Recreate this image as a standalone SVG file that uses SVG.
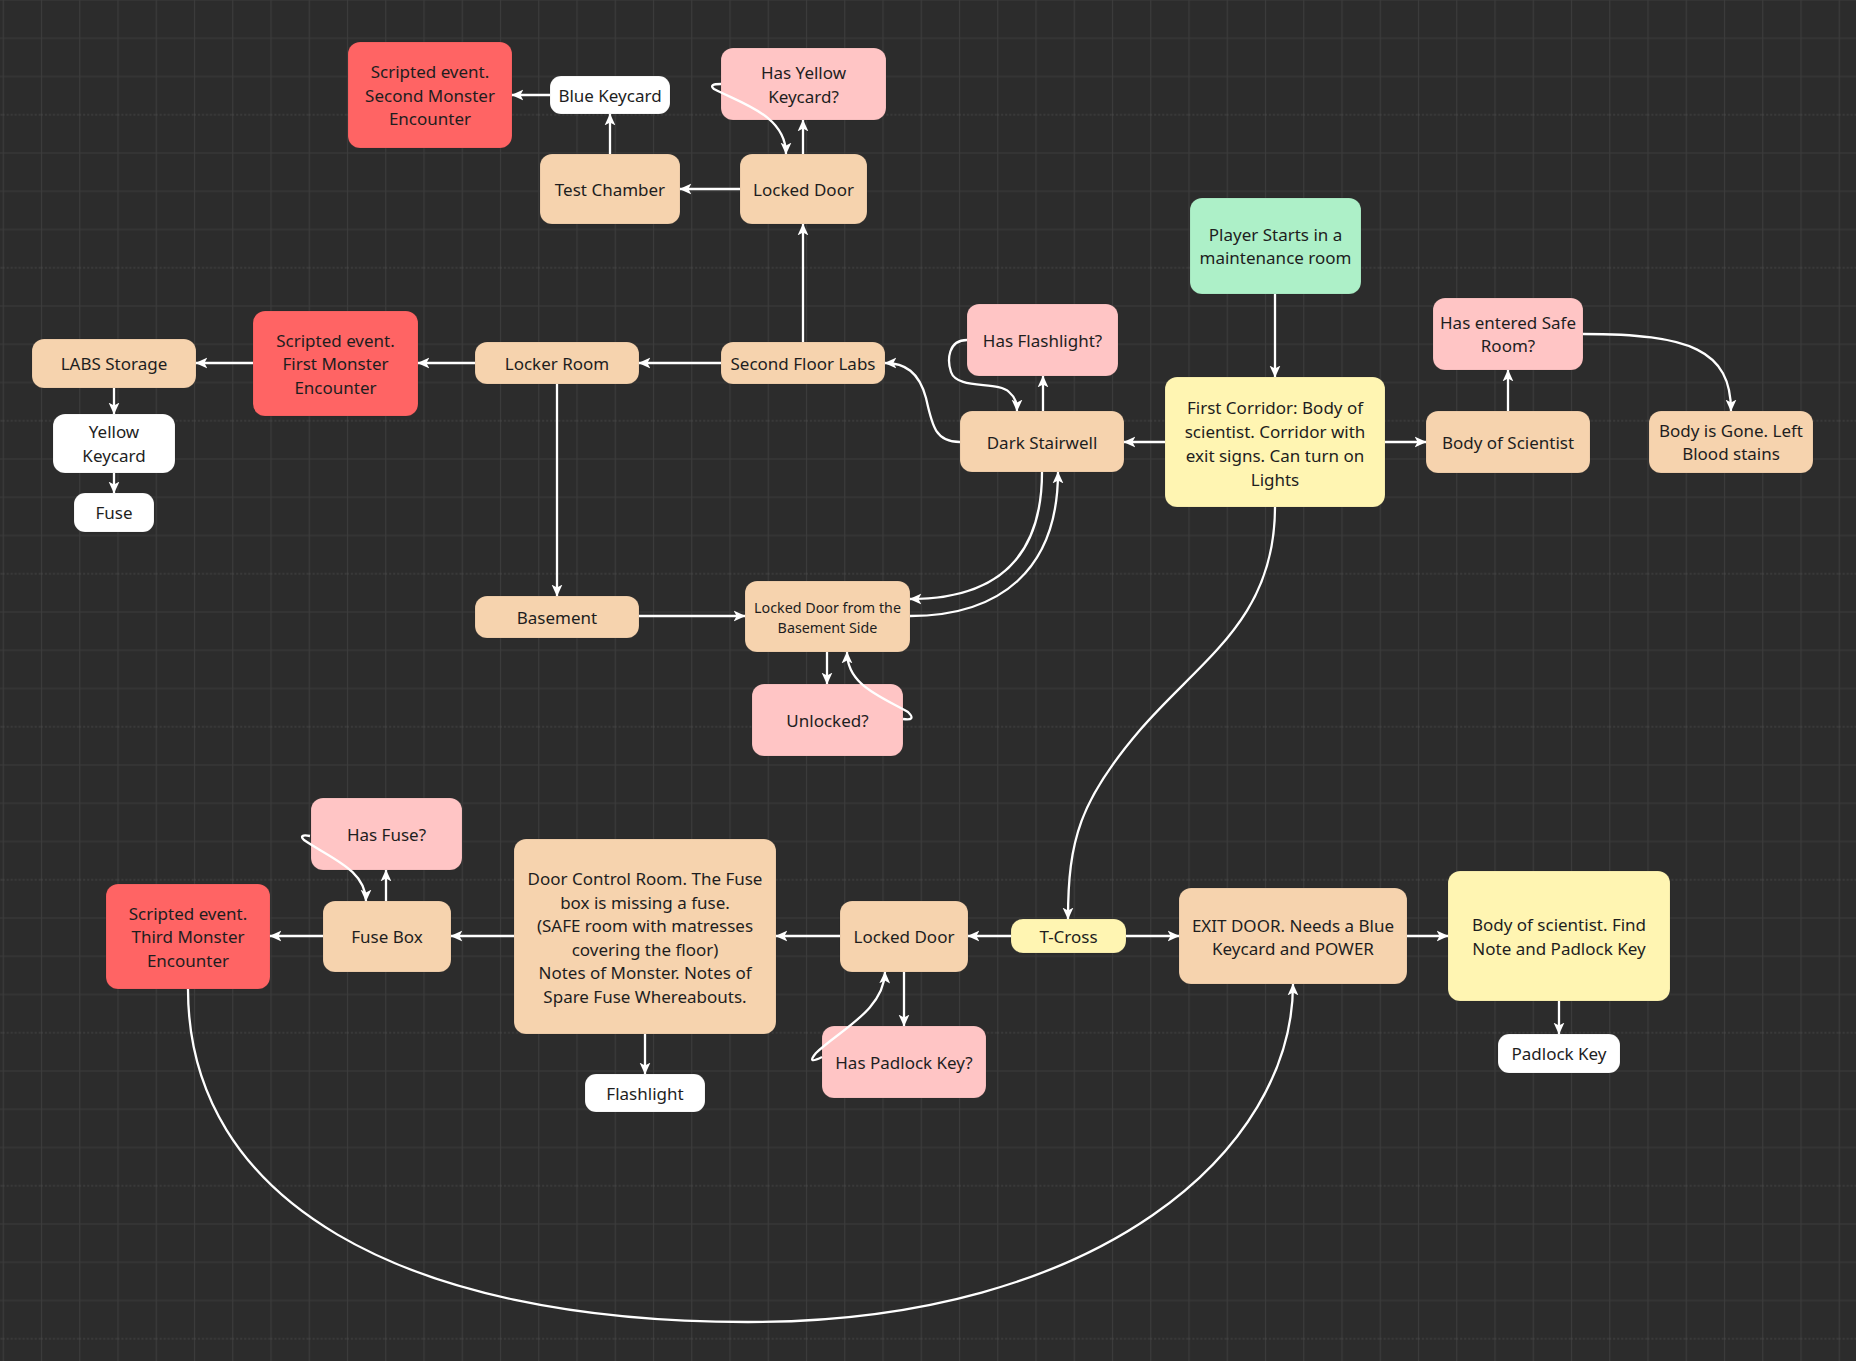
<svg xmlns="http://www.w3.org/2000/svg" width="1856" height="1361" viewBox="0 0 1856 1361">
<style>
text{font-family:"Noto Sans","Open Sans","DejaVu Sans",sans-serif;font-size:17px;fill:#1e1e1e;text-anchor:middle;dominant-baseline:central}
.small{font-size:14.3px}
.red{fill:#ff6464}
.peach{fill:#f6d3ae}
.pink{fill:#ffc5c5}
.green{fill:#adf0c8}
.yellow{fill:#fff5b2}
.white{fill:#ffffff}
.node rect{stroke:#000;stroke-opacity:0.08;stroke-width:1}
#connectors path{fill:none;stroke:#ffffff;stroke-width:2.3;marker-end:url(#arrow)}
</style>
<defs>
<marker id="arrow" viewBox="0 0 10 10" refX="9.5" refY="5" markerWidth="12" markerHeight="12" markerUnits="userSpaceOnUse" orient="auto">
<path d="M0,0.5 L10,5 L0,9.5 L2.5,5 z" fill="#ffffff"/>
</marker>
<pattern id="grid" x="2.7" y="-0.5" width="38.25" height="153" patternUnits="userSpaceOnUse">
<path d="M0.5,0 V153" stroke="#3c3c3c" stroke-width="1.2" fill="none"/>
<path d="M0,0.5 H38.25 M0,38.75 H38.25 M0,77 H38.25" stroke="#3c3c3c" stroke-width="1.2" fill="none"/>
<path d="M0,115.25 H38.25" stroke="#474747" stroke-width="1.2" stroke-dasharray="2 2" fill="none"/>
</pattern>
</defs>
<rect width="1856" height="1361" fill="#2c2c2c"/>
<rect width="1856" height="1361" fill="url(#grid)"/>

<g id="n-scripted2" class="node"><rect class="red" x="348" y="42" width="164" height="106" rx="12"/><text x="430" y="71.5">Scripted event.</text><text x="430" y="95">Second Monster</text><text x="430" y="118.5">Encounter</text></g>
<g id="n-bluekeycard" class="node"><rect class="white" x="550" y="76" width="120" height="38" rx="11"/><text x="610" y="95">Blue Keycard</text></g>
<g id="n-hasyellow" class="node"><rect class="pink" x="721" y="48" width="165" height="72" rx="12"/><text x="803.5" y="72.5">Has Yellow</text><text x="803.5" y="96">Keycard?</text></g>
<g id="n-testchamber" class="node"><rect class="peach" x="540" y="154" width="140" height="70" rx="12"/><text x="610" y="189">Test Chamber</text></g>
<g id="n-lockeddoor1" class="node"><rect class="peach" x="740" y="154" width="127" height="70" rx="12"/><text x="803.5" y="189">Locked Door</text></g>
<g id="n-labsstorage" class="node"><rect class="peach" x="32" y="339" width="164" height="49" rx="12"/><text x="114" y="363.5">LABS Storage</text></g>
<g id="n-scripted1" class="node"><rect class="red" x="253" y="311" width="165" height="105" rx="12"/><text x="335.5" y="340">Scripted event.</text><text x="335.5" y="363.5">First Monster</text><text x="335.5" y="387">Encounter</text></g>
<g id="n-lockerroom" class="node"><rect class="peach" x="475" y="342" width="164" height="42" rx="12"/><text x="557" y="363">Locker Room</text></g>
<g id="n-secondfloor" class="node"><rect class="peach" x="721" y="342" width="164" height="42" rx="12"/><text x="803" y="363">Second Floor Labs</text></g>
<g id="n-yellowkeycard" class="node"><rect class="white" x="53" y="414" width="122" height="59" rx="12"/><text x="114" y="431.75">Yellow</text><text x="114" y="455.25">Keycard</text></g>
<g id="n-fuse" class="node"><rect class="white" x="74" y="493" width="80" height="39" rx="11"/><text x="114" y="512.5">Fuse</text></g>
<g id="n-playerstarts" class="node"><rect class="green" x="1190" y="198" width="171" height="96" rx="12"/><text x="1275.5" y="234.25">Player Starts in a</text><text x="1275.5" y="257.75">maintenance room</text></g>
<g id="n-hasflashlight" class="node"><rect class="pink" x="967" y="304" width="151" height="72" rx="12"/><text x="1042.5" y="340">Has Flashlight?</text></g>
<g id="n-hassafe" class="node"><rect class="pink" x="1433" y="298" width="150" height="72" rx="12"/><text x="1508" y="322.25">Has entered Safe</text><text x="1508" y="345.75">Room?</text></g>
<g id="n-darkstairwell" class="node"><rect class="peach" x="960" y="411" width="164" height="61" rx="12"/><text x="1042" y="442">Dark Stairwell</text></g>
<g id="n-firstcorridor" class="node"><rect class="yellow" x="1165" y="377" width="220" height="130" rx="12"/><text x="1275" y="407">First Corridor: Body of</text><text x="1275" y="431">scientist. Corridor with</text><text x="1275" y="455">exit signs. Can turn on</text><text x="1275" y="479">Lights</text></g>
<g id="n-bodyscientist" class="node"><rect class="peach" x="1426" y="411" width="164" height="62" rx="12"/><text x="1508" y="442">Body of Scientist</text></g>
<g id="n-bodygone" class="node"><rect class="peach" x="1649" y="411" width="164" height="62" rx="12"/><text x="1731" y="430.25">Body is Gone. Left</text><text x="1731" y="453.75">Blood stains</text></g>
<g id="n-lockeddoorbasement" class="node"><rect class="peach" x="745" y="581" width="165" height="71" rx="12"/><text class="small" x="827.5" y="607">Locked Door from the</text><text class="small" x="827.5" y="627">Basement Side</text></g>
<g id="n-unlocked" class="node"><rect class="pink" x="752" y="684" width="151" height="72" rx="12"/><text x="827.5" y="720">Unlocked?</text></g>
<g id="n-basement" class="node"><rect class="peach" x="475" y="596" width="164" height="42" rx="12"/><text x="557" y="617">Basement</text></g>
<g id="n-hasfuse" class="node"><rect class="pink" x="311" y="798" width="151" height="72" rx="12"/><text x="386.5" y="834">Has Fuse?</text></g>
<g id="n-scripted3" class="node"><rect class="red" x="106" y="884" width="164" height="105" rx="12"/><text x="188" y="913">Scripted event.</text><text x="188" y="936.5">Third Monster</text><text x="188" y="960">Encounter</text></g>
<g id="n-fusebox" class="node"><rect class="peach" x="323" y="901" width="128" height="71" rx="12"/><text x="387" y="936.5">Fuse Box</text></g>
<g id="n-doorcontrol" class="node"><rect class="peach" x="514" y="839" width="262" height="195" rx="12"/><text x="645" y="878.5">Door Control Room. The Fuse</text><text x="645" y="902">box is missing a fuse.</text><text x="645" y="925.5">(SAFE room with matresses</text><text x="645" y="949">covering the floor)</text><text x="645" y="972.5">Notes of Monster. Notes of</text><text x="645" y="996">Spare Fuse Whereabouts.</text></g>
<g id="n-lockeddoor2" class="node"><rect class="peach" x="840" y="901" width="128" height="71" rx="12"/><text x="904" y="936.5">Locked Door</text></g>
<g id="n-haspadlock" class="node"><rect class="pink" x="822" y="1026" width="164" height="72" rx="12"/><text x="904" y="1062">Has Padlock Key?</text></g>
<g id="n-flashlight" class="node"><rect class="white" x="585" y="1074" width="120" height="38" rx="11"/><text x="645" y="1093">Flashlight</text></g>
<g id="n-tcross" class="node"><rect class="yellow" x="1011" y="919" width="115" height="34" rx="12"/><text x="1068.5" y="936">T-Cross</text></g>
<g id="n-exitdoor" class="node"><rect class="peach" x="1179" y="888" width="228" height="96" rx="12"/><text x="1293" y="925.25">EXIT DOOR. Needs a Blue</text><text x="1293" y="948.75">Keycard and POWER</text></g>
<g id="n-bodyfind" class="node"><rect class="yellow" x="1448" y="871" width="222" height="130" rx="12"/><text x="1559" y="924.75">Body of scientist. Find</text><text x="1559" y="948.25">Note and Padlock Key</text></g>
<g id="n-padlockkey" class="node"><rect class="white" x="1498" y="1034" width="122" height="39" rx="11"/><text x="1559" y="1053.5">Padlock Key</text></g>

<g id="connectors">
<path d="M550,95 H512"/>
<path d="M610,154 V114"/>
<path d="M740,189 H680"/>
<path d="M803,154 V120"/>
<path d="M721,84 Q 708,84 714,89 C 740,103 786,115 786,154"/>
<path d="M803,342 V224"/>
<path d="M721,363 H639"/>
<path d="M475,363 H418"/>
<path d="M253,363 H196"/>
<path d="M114,388 V414"/>
<path d="M114,473 V493"/>
<path d="M557,384 V596"/>
<path d="M639,616 H745"/>
<path d="M960,442 C 935,442 932,425 926,398 C 919,372 905,363 885,363"/>
<path d="M1043,411 V376"/>
<path d="M967,340 C 948,340 947,360 951,372 C 957,390 998,381 1009,392 C 1016,398 1017,404 1017,411"/>
<path d="M1165,442 H1124"/>
<path d="M1275,294 V377"/>
<path d="M1385,442 H1426"/>
<path d="M1508,411 V370"/>
<path d="M1583,334 C 1690,334 1731,350 1731,411"/>
<path d="M1042,472 C 1042,560 995,599 910,599"/>
<path d="M910,616 C 1000,616 1058,570 1058,472"/>
<path d="M827,652 V684"/>
<path d="M903,719 Q 917,721 908,712 C 880,696 847,685 847,652"/>
<path d="M1275,507 C 1275,620 1200,660 1140,730 C 1080,800 1068,840 1068,919"/>
<path d="M1011,936 H968"/>
<path d="M1126,936 H1179"/>
<path d="M1407,936 H1448"/>
<path d="M1559,1001 V1034"/>
<path d="M840,936 H776"/>
<path d="M514,936 H451"/>
<path d="M323,936 H270"/>
<path d="M386,901 V870"/>
<path d="M310,836 Q 298,834 304,840 C 330,858 366,870 366,901"/>
<path d="M645,1034 V1074"/>
<path d="M904,972 V1026"/>
<path d="M822,1057 Q 806,1065 816,1053 C 840,1030 884,1010 885,972"/>
<path d="M188,989 C 188,1200 400,1322 748,1322 C 1100,1322 1293,1150 1293,984"/>
</g>
</svg>
